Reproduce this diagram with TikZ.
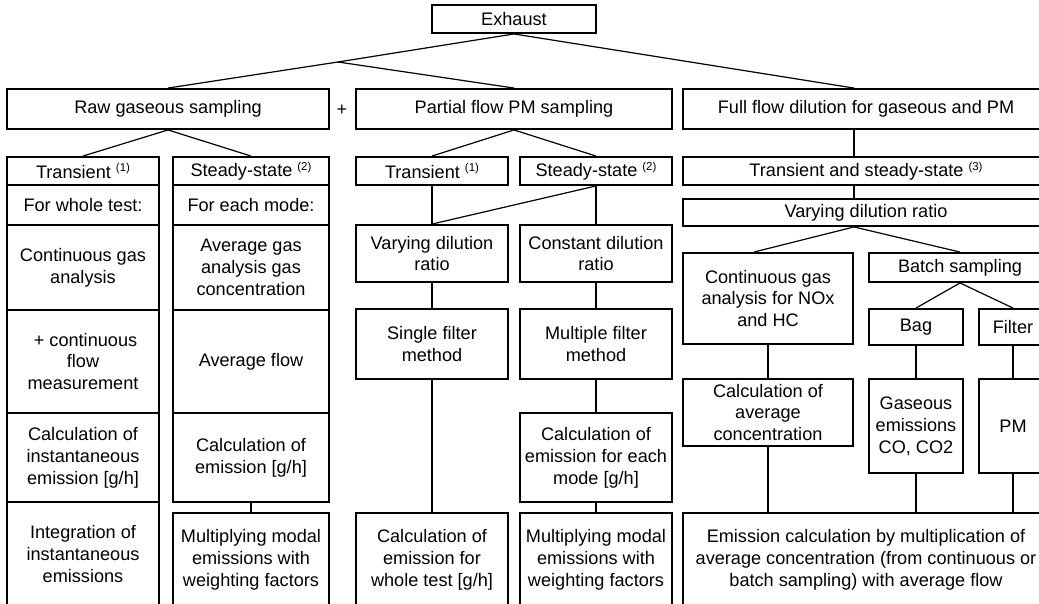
\documentclass[tikz,border=0pt]{standalone}
\usepackage{fontspec}
\setmainfont{Liberation Sans}
\newcommand\supm[1]{\raisebox{6.5pt}{\fontsize{11.5}{12}\selectfont #1}}
\newcommand\bx[6]{\node[box, minimum width={(#4-#2)*1bp}, minimum height={(#5-#3)*1bp}] (#1) at ({(#2+#4)/2},{(#3+#5)/2}) {#6};}
\tikzset{
  box/.style={draw, line width=1.9bp, inner sep=0pt, align=center, font=\fontsize{18.2}{22}\selectfont},
  link/.style={line width=1.9bp},
  diag/.style={line width=1.2bp}
}
\begin{document}
\begin{tikzpicture}[x=1bp,y=-1bp]
\useasboundingbox (0,0) rectangle (1039,604);
\clip (0,0) rectangle (1039,604);
\fill[white] (0,0) rectangle (1039,604);
% top
\bx{ex}{432}{5}{596}{33}{Exhaust}
\bx{raw}{7}{89}{329}{129}{Raw gaseous sampling}
\bx{pf}{356}{89}{672}{129}{Partial flow PM sampling}
\bx{ff}{683}{89}{1049}{129}{Full flow dilution for gaseous and PM}
\node[font=\fontsize{18.2}{22}\selectfont, inner sep=0pt] (plus) at (342,110) {+};
% raw transient column
\bx{rt1}{7}{157}{159}{185}{Transient \supm{(1)}}
\bx{rt2}{7}{185}{159}{225}{For whole test:}
\bx{rt3}{7}{225}{159}{310}{Continuous gas\\analysis}
\bx{rt4}{7}{310}{159}{413}{~+ continuous\\flow\\measurement}
\bx{rt5}{7}{413}{159}{502}{Calculation of\\instantaneous\\emission [g/h]}
\bx{rt6}{7}{502}{159}{606}{Integration of\\instantaneous\\emissions}
% raw steady column
\bx{rs1}{173}{157}{329}{185}{Steady-state \supm{(2)}}
\bx{rs2}{173}{185}{329}{225}{For each mode:}
\bx{rs3}{173}{225}{329}{310}{Average gas\\analysis gas\\concentration}
\bx{rs4}{173}{310}{329}{413}{Average flow}
\bx{rs5}{173}{413}{329}{502}{Calculation of\\emission [g/h]}
\bx{rs6}{173}{513}{329}{606}{Multiplying modal\\emissions with\\weighting factors}
% partial flow
\bx{pt}{356}{157}{508}{185}{Transient \supm{(1)}}
\bx{ps}{520}{157}{672}{185}{Steady-state \supm{(2)}}
\bx{pv}{356}{225}{508}{282}{Varying dilution\\ratio}
\bx{pc}{520}{225}{672}{282}{Constant dilution\\ratio}
\bx{psf}{356}{309}{508}{379}{Single filter\\method}
\bx{pmf}{520}{309}{672}{379}{Multiple filter\\method}
\bx{pce}{520}{413}{672}{502}{Calculation of\\emission for each\\mode [g/h]}
\bx{pwt}{356}{513}{508}{606}{Calculation of\\emission for\\whole test [g/h]}
\bx{pmm}{520}{513}{672}{606}{Multiplying modal\\emissions with\\weighting factors}
% full flow
\bx{fts}{683}{157}{1049}{185}{Transient and steady-state \supm{(3)}}
\bx{fvd}{683}{199}{1049}{226}{Varying dilution ratio}
\bx{fcg}{683}{253}{853}{344}{Continuous gas\\analysis for NOx\\and HC}
\bx{fbs}{869}{253}{1051}{282}{Batch sampling}
\bx{fbag}{869}{309}{963}{345}{Bag}
\bx{ffil}{979}{309}{1047}{345}{Filter}
\bx{fca}{683}{379}{853}{446}{Calculation of\\average\\concentration}
\bx{fge}{869}{379}{963}{473}{Gaseous\\emissions\\CO, CO2}
\bx{fpm}{979}{379}{1047}{473}{PM}
\bx{fem}{683}{513}{1049}{606}{Emission calculation by multiplication of\\average concentration (from continuous or\\batch sampling) with average flow}
% connectors
\coordinate (j) at (338,62);
\draw[diag] (ex.south) -- (j);
\draw[diag] (j) -- (raw.north);
\draw[diag] (j) -- (pf.north);
\draw[diag] (ex.south) -- (ff.north -| fcg.east);
\draw[diag] (raw.south) -- (rt1.north);
\draw[diag] (raw.south) -- (rs1.north);
\draw[link] (rs5.south) -- (rs6.north);
\draw[diag] (pf.south) -- (pt.north);
\draw[diag] (pf.south) -- (ps.north);
\draw[link] (pt.south) -- (pv.north);
\draw[diag] (ps.south) -- (pv.north);
\draw[link] (ps.south) -- (pc.north);
\draw[link] (pv.south) -- (psf.north);
\draw[link] (pc.south) -- (pmf.north);
\draw[link] (psf.south) -- (pwt.north);
\draw[link] (pmf.south) -- (pce.north);
\draw[link] (pce.south) -- (pmm.north);
\draw[link] (ff.south -| fcg.east) -- (fts.north -| fcg.east);
\draw[link] (fts.south -| fcg.east) -- (fvd.north -| fcg.east);
\draw[diag] (fvd.south -| fcg.east) -- ([xshift=-14bp]fcg.north);
\draw[diag] (fvd.south -| fcg.east) -- (fbs.north);
\draw[diag] (fbs.south) -- (fbag.north);
\draw[diag] (fbs.south) -- (ffil.north);
\draw[link] (fcg.south) -- (fca.north);
\draw[link] (fbag.south) -- (fge.north);
\draw[link] (ffil.south) -- (fpm.north);
\draw[link] (fca.south) -- (fca.south |- fem.north);
\draw[link] (fge.south) -- (fge.south |- fem.north);
\draw[link] (fpm.south) -- (fpm.south |- fem.north);
\end{tikzpicture}
\end{document}
